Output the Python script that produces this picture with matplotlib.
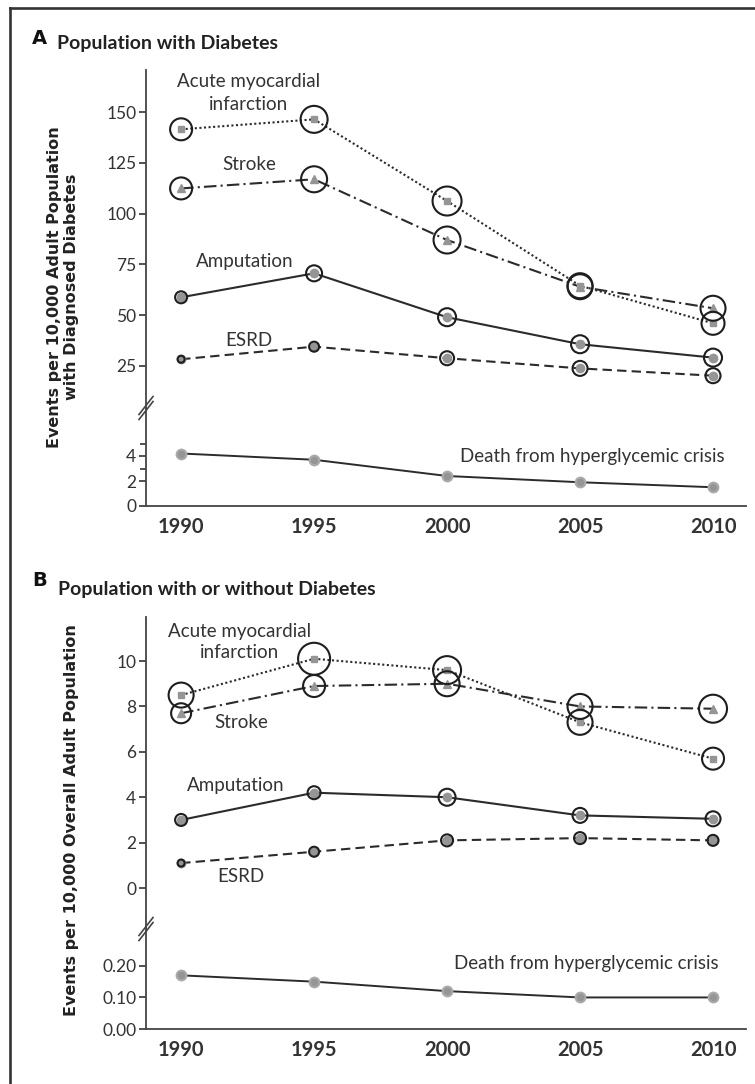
import numpy as np
import matplotlib.pyplot as plt
from matplotlib.lines import Line2D

years = [1990, 1995, 2000, 2005, 2010]

# Panel A: events per 10,000 adults with diagnosed diabetes
a_ami = [141.5, 146.4, 106.2, 64.5, 46.0]
a_stroke = [112.4, 116.9, 87.0, 64.0, 53.4]
a_amput = [58.8, 70.6, 49.0, 35.7, 29.1]
a_esrd = [28.3, 34.5, 28.8, 23.8, 20.2]
a_death = [4.2, 3.7, 2.4, 1.9, 1.5]

# Panel B: events per 10,000 overall adult population
b_ami = [8.5, 10.1, 9.6, 7.3, 5.7]
b_stroke = [7.7, 8.9, 9.0, 8.0, 7.9]
b_amput = [3.0, 4.2, 4.0, 3.2, 3.05]
b_esrd = [1.1, 1.6, 2.1, 2.2, 2.1]
b_death = [0.17, 0.15, 0.12, 0.10, 0.10]

series_names = ["Acute myocardial\ninfarction", "Stroke", "Amputation", "ESRD",
                "Death from hyperglycemic crisis"]

# ring diameters around points (pixels) - styling only
a_rings = [[22, 27, 29, 25, 23], [22, 26, 27, 25, 25], [12, 16, 18, 18, 18], [7, 10, 14, 15, 15]]
b_rings = [[25, 32, 28, 25, 22], [20, 22, 25, 25, 28], [12, 13, 17, 15, 15], [7, 10, 12, 12, 11]]

W, H = 755, 1084
NARROW = ['Lato', 'DejaVu Sans']
LINE = '#2b2b2b'
GRAY = '#959595'

fig = plt.figure(figsize=(W / 100, H / 100), dpi=100)


def rect(x0, x1, ytop, ybot):
    return [x0 / W, 1 - ybot / H, (x1 - x0) / W, (ybot - ytop) / H]


def put(x, y, s, ha='center', **kw):
    kw.setdefault('family', NARROW)
    kw.setdefault('fontsize', 13.5)
    kw.setdefault('color', '#333333')
    fig.text(x / W, 1 - y / H, s, ha=ha, va='center', **kw)


def px(d):
    return d * 0.72


styles = [
    dict(marker='s', ls=(0, (1, 1.2)), ms=5),
    dict(marker='^', ls=(0, (6, 2, 1, 2)), ms=5.5),
    dict(marker='o', ls='-', ms=6),
    dict(marker='o', ls=(0, (4.5, 2.5)), ms=6),
]


def style_axis(ax, bottom):
    for s in ['top', 'right']:
        ax.spines[s].set_visible(False)
    ax.spines['bottom'].set_visible(bottom)
    for s in ['left', 'bottom']:
        ax.spines[s].set_color('#444444')
        ax.spines[s].set_linewidth(1.3)
    ax.set_xlim(1988.68, 2011.24)
    ax.tick_params(axis='y', direction='out', length=5, width=1.2, pad=2,
                   labelsize=12.5, colors='#333333', which='both')
    ax.tick_params(axis='y', which='minor', length=4)
    if bottom:
        ax.set_xticks(years)
        ax.tick_params(axis='x', length=0, pad=8)
        ax.set_xticklabels([str(y) for y in years], family=NARROW,
                           fontsize=14.5, fontweight='bold', color='#333333')
    else:
        ax.set_xticks([])
    for lab in ax.get_yticklabels():
        lab.set_family(NARROW)
    ax.patch.set_alpha(0)


def draw_series(ax, vals, st, rings):
    ax.plot(years, vals, color=LINE, lw=1.5, ls=st['ls'], zorder=2)
    ax.plot(years, vals, ls='none', marker=st['marker'], ms=st['ms'],
            mfc=GRAY, mec=GRAY, zorder=3)
    ax.scatter(years, vals, s=[px(d) ** 2 for d in rings], facecolors='none',
               edgecolors='#1e1e1e', linewidths=1.5, zorder=4)


def break_mark(x, y):
    for off in (-2.5, 2.5):
        fig.add_artist(Line2D([(x - 7) / W, (x + 7) / W],
                              [1 - (y + 9 + off) / H, 1 - (y - 9 + off) / H],
                              color='#444444', lw=1.2))


def draw_death(ax, vals):
    ax.plot(years, vals, color=LINE, lw=1.4, zorder=2)
    ax.plot(years, vals, ls='none', marker='o', ms=7, mfc=GRAY, mec='#aaaaaa',
            mew=1.5, zorder=3)


# ---------- Panel A ----------
axA = fig.add_axes(rect(146, 746, 70, 408))
axA2 = fig.add_axes(rect(146, 746, 408, 506))
for vals, st, rg in zip([a_ami, a_stroke, a_amput, a_esrd], styles, a_rings):
    draw_series(axA, vals, st, rg)
axA.set_ylim(4.3, 170.7)
axA.set_yticks([25, 50, 75, 100, 125, 150])
draw_death(axA2, a_death)
axA2.set_ylim(0, 7.84)
axA2.set_yticks([0, 2, 4])
axA2.set_yticks([3, 5], minor=True)
style_axis(axA, False)
style_axis(axA2, True)
break_mark(146, 408)

put(32, 38, "A", ha='left', family='DejaVu Sans', fontweight='bold', fontsize=14,
    color='#111111')
put(57, 44, "Population with Diabetes", ha='left', fontweight='bold', fontsize=14,
    color='#222222')
put(249, 82, "Acute myocardial")
put(249, 105, "infarction")
put(249, 165, "Stroke")
put(245, 262, "Amputation")
put(249, 340, "ESRD")
put(725, 456, series_names[4], ha='right')
put(63, 287, "Events per 10,000 Adult Population\nwith Diagnosed Diabetes",
    family='DejaVu Sans', fontweight='bold', fontsize=11.5, rotation=90,
    multialignment='center', color='#222222', linespacing=1.1)

# ---------- Panel B ----------
axB = fig.add_axes(rect(146, 746, 617, 928))
axB2 = fig.add_axes(rect(146, 746, 928, 1029))
for vals, st, rg in zip([b_ami, b_stroke, b_amput, b_esrd], styles, b_rings):
    draw_series(axB, vals, st, rg)
axB.set_ylim(-1.76, 11.94)
axB.set_yticks([0, 2, 4, 6, 8, 10])
draw_death(axB2, b_death)
axB2.set_ylim(0, 0.32)
axB2.set_yticks([0, 0.1, 0.2])
axB2.set_yticklabels(['0.00', '0.10', '0.20'])
style_axis(axB, False)
style_axis(axB2, True)
break_mark(146, 929)

put(32, 581, "B", ha='left', family='DejaVu Sans', fontweight='bold', fontsize=14,
    color='#111111')
put(58, 589, "Population with or without Diabetes", ha='left', fontweight='bold',
    fontsize=14, color='#222222')
put(240, 631, "Acute myocardial")
put(240, 653, "infarction")
put(241, 723, "Stroke")
put(236, 786, "Amputation")
put(241, 877, "ESRD")
put(719, 964, series_names[4], ha='right')
put(72, 820, "Events per 10,000 Overall Adult Population", family='DejaVu Sans',
    fontweight='bold', fontsize=11.5, rotation=90, color='#222222')

# frame (left and top edges)
fig.add_artist(Line2D([10 / W, 10 / W], [0, 1 - 8 / H], color='#333333', lw=1.9))
fig.add_artist(Line2D([10 / W, 1], [1 - 8 / H, 1 - 8 / H], color='#333333', lw=1.9))

fig.savefig('out.png', dpi=100)
